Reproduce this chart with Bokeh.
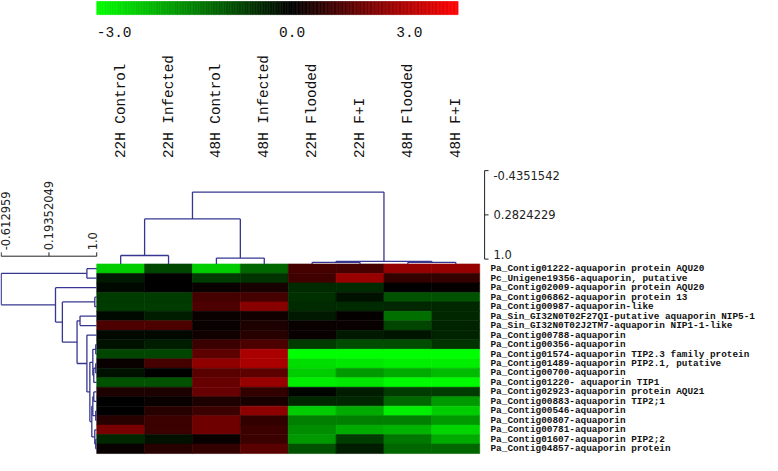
import numpy as np
from bokeh.plotting import figure
from bokeh.models import Range1d, LinearColorMapper, ColumnDataSource
from bokeh.core.properties import value
from bokeh.embed import file_html
from bokeh.resources import INLINE

# ---------------- data ----------------
conditions = ["22H Control", "22H Infected", "48H Control", "48H Infected",
              "22H Flooded", "22H F+I", "48H Flooded", "48H F+I"]

genes = [
    "Pa_Contig01222-aquaporin protein AQU20",
    "Pc_Unigene19356-aquaporin, putative",
    "Pa_Contig02009-aquaporin protein AQU20",
    "Pa_Contig06862-aquaporin protein 13",
    "Pa_Contig00987-aquaporin-like",
    "Pa_Sin_GI32N0T02F27QI-putative aquaporin NIP5-1",
    "Pa_Sin_GI32N0T02J2TM7-aquaporin NIP1-1-like",
    "Pa_Contig00788-aquaporin",
    "Pa_Contig00356-aquaporin",
    "Pa_Contig01574-aquaporin TIP2.3 family protein",
    "Pa_Contig01489-aquaporin PIP2.1, putative",
    "Pa_Contig00700-aquaporin",
    "Pa_Contig01220- aquaporin TIP1",
    "Pa_Contig02923-aquaporin protein AQU21",
    "Pa_Contig00883-aquaporin TIP2;1",
    "Pa_Contig00546-aquaporin",
    "Pa_Contig00807-aquaporin",
    "Pa_Contig00781-aquaporin",
    "Pa_Contig01607-aquaporin PIP2;2",
    "Pa_Contig04857-aquaporin protein",
]

h22_control  = [-2.4, -0.3, -0.1, -0.7, -0.7, -0.1, 0.9, -0.1, -0.2, -0.8, 0.1, -0.2, -0.95, 0.35, 0.0, 0.0, 0.45, 1.4, -0.45, 0.1]
h22_infected = [-0.8, 0.0, 0.0, -0.7, -0.7, -0.35, 0.9, -0.1, -0.35, -0.8, 0.8, 0.0, -0.95, 0.35, 0.1, 0.45, 0.7, 0.7, -0.2, 0.45]
h48_control  = [-2.4, -0.7, 0.1, 0.8, 0.9, 0.1, 0.1, 0.2, 0.7, 1.1, 1.7, 1.05, 1.2, 1.2, 0.35, 0.7, 1.3, 1.3, 0.1, 0.6]
h48_infected = [-1.2, -0.6, 0.3, 0.8, 1.6, 0.2, 0.35, 0.45, 0.9, 2.0, 2.0, 1.1, 1.8, 0.6, 0.3, 1.65, 0.6, 0.7, 0.7, 1.05]
h22_flooded  = [0.8, 0.75, -0.5, -0.55, -0.5, -0.3, 0.1, 0.1, -0.7, -3.0, -2.6, -2.4, -2.8, -0.05, -0.45, -2.4, -1.5, -1.65, -1.8, -0.95]
h22_fi       = [0.8, 1.8, -0.5, -0.2, -0.5, 0.05, 0.1, -0.3, -0.9, -3.0, -2.7, -1.8, -2.7, -0.35, -0.45, -2.0, -1.5, -2.0, -0.7, -0.35]
h48_flooded  = [1.75, 0.6, 0.0, -0.95, -0.45, -1.3, -0.8, -0.25, -0.9, -3.0, -2.8, -2.0, -2.95, -0.7, -1.2, -2.8, -1.5, -2.1, -1.4, -1.2]
h48_fi       = [1.75, 0.6, 0.05, -0.95, -0.45, -0.45, -0.4, -0.4, -0.6, -3.0, -2.8, -2.2, -2.95, -0.7, -1.8, -2.4, -1.8, -2.5, -2.0, -1.2]
columns = [h22_control, h22_infected, h48_control, h48_infected,
           h22_flooded, h22_fi, h48_flooded, h48_fi]

# hierarchical merges: (child a, child b, correlation height); new nodes numbered after leaves
row_merges = [
    (0, 1, 0.834), (3, 4, 0.967), (5, 6, 0.718), (8, 9, 0.983), (10, 11, 0.983),
    (24, 12, 0.95), (23, 25, 0.934), (13, 14, 0.95), (15, 16, 0.983), (18, 19, 0.983),
    (17, 29, 0.967), (27, 28, 0.934), (31, 30, 0.917), (26, 32, 0.884), (7, 33, 0.834),
    (22, 34, 0.668), (21, 35, 0.420), (2, 36, 0.304), (20, 37, -0.612959),
]
col_merges = [
    (0, 1, 0.87), (2, 3, 0.91), (8, 9, 0.308), (4, 5, 0.975), (6, 7, 0.975),
    (11, 12, 0.96), (10, 13, -0.106),
]

row_scale_ticks = [-0.612959, 0.19352049, 1.0]
row_scale_labels = ["-0.612959", "0.19352049", "1.0"]
col_scale_ticks = [-0.4351542, 0.2824229, 1.0]
col_scale_labels = ["-0.4351542", "0.2824229", "1.0"]
cbar_ticks = [-3.0, 0.0, 3.0]
cbar_labels = ["-3.0", "0.0", "3.0"]

# ---------------- layout (page pixel units) ----------------
HX0, HX1 = 99.0, 489.0          # heatmap left / right
HY0, HY1 = 272.0, 467.0         # heatmap top / bottom
NR, NC = len(genes), len(conditions)
CW = (HX1 - HX0) / NC
RH = (HY1 - HY0) / NR
ROW_TREE_X0 = 1.7               # x of the row-tree minimum
COL_TREE_Y0 = 176.0             # y of the col-tree minimum
DENDRO = "#363690"

palette = []
for i in range(256):
    t = i / 255 * 2 - 1
    if t < 0:
        palette.append("#%02x%02x%02x" % (0, int(round(-t * 255)), 0))
    else:
        palette.append("#%02x%02x%02x" % (int(round(t * 255)), 0, 0))
mapper = LinearColorMapper(palette=palette, low=-3, high=3)

p = figure(width=762, height=455, x_range=Range1d(1, 777), y_range=Range1d(469, 1),
           output_backend="svg", toolbar_location=None, min_border=0,
           x_axis_type=None, y_axis_type=None)
p.grid.visible = False
p.outline_line_color = None
p.background_fill_color = "white"
p.border_fill_color = "white"

# ---------------- heatmap ----------------
xs, ys, vs = [], [], []
for j, col in enumerate(columns):
    for i, v in enumerate(col):
        xs.append(HX0 + CW * (j + 0.5))
        ys.append(HY0 + RH * (i + 0.5))
        vs.append(v)
src = ColumnDataSource(dict(x=xs, y=ys, v=vs))
p.rect(x="x", y="y", width=CW, height=RH, source=src,
       fill_color={"field": "v", "transform": mapper},
       line_color={"field": "v", "transform": mapper}, line_width=0.6)

# ---------------- colour bar ----------------
CB_X0, CB_XMID, CB_X1, CB_Y0, CB_Y1 = 99.0, 298.0, 467.0, 2.0, 15.5

def cb_pos(v):
    return CB_XMID + v / 3.0 * ((CB_XMID - CB_X0) if v < 0 else (CB_X1 - CB_XMID))

nb = 240
grad = np.linspace(-3, 3, nb + 1)
edges = [cb_pos(g) for g in grad]
mids = (grad[:-1] + grad[1:]) / 2
cols_cb = [palette[int(round((g + 3) / 6 * 255))] for g in mids]
p.quad(left=edges[:-1], right=edges[1:], top=[CB_Y0] * nb, bottom=[CB_Y1] * nb,
       fill_color=cols_cb, line_color=cols_cb, line_width=0.6)
lab_x = [cb_pos(cbar_ticks[0]), cb_pos(cbar_ticks[1]), 404.0]
for xx, lab, al in zip(lab_x, cbar_labels, ["left", "center", "left"]):
    p.text(x=[xx], y=[33], text=[lab], text_align=al, text_baseline="middle",
           text_font=value("Liberation Mono"), text_font_size="14.5px", text_color="#111111")

# ---------------- column labels ----------------
p.text(x=[HX0 + CW * (j + 0.5) for j in range(NC)], y=[163] * NC, text=conditions,
       angle=np.pi / 2, text_align="left", text_baseline="middle",
       text_font=value("Liberation Mono"), text_font_size="14.3px", text_color="#111111")

# ---------------- row labels ----------------
p.text(x=[500] * NR, y=[HY0 + RH * (i + 0.5) for i in range(NR)], text=genes,
       text_align="left", text_baseline="middle",
       text_font=value("Liberation Mono"), text_font_size="9.4px", text_font_style="bold",
       text_color="#111111")

# ---------------- dendrograms ----------------
def row_h(v):
    lo = row_scale_ticks[0]
    return ROW_TREE_X0 + (v - lo) / (1 - lo) * (HX0 - ROW_TREE_X0)

def col_h(v):
    lo = col_scale_ticks[0]
    return HY0 - (1 - v) / (1 - lo) * (HY0 - COL_TREE_Y0)

def tree(merges, n, leaf_pos, leaf_h, hmap):
    pos = {i: leaf_pos(i) for i in range(n)}
    hh = {i: leaf_h for i in range(n)}
    brackets, stems = [], []
    for k, (a, b, h) in enumerate(merges):
        node = n + k
        hc = hmap(h)
        pos[node] = (pos[a] + pos[b]) / 2
        hh[node] = hc
        brackets.append((hc, pos[a], pos[b]))
        stems.append((pos[a], hh[a], hc))
        stems.append((pos[b], hh[b], hc))
    return brackets, stems

rb, rs = tree(row_merges, NR, lambda i: HY0 + RH * (i + 0.5), HX0, row_h)
segs = [(h, a, h, b) for h, a, b in rb] + [(h0, y, h1, y) for y, h0, h1 in rs]
p.segment(x0=[s[0] for s in segs], y0=[s[1] for s in segs], x1=[s[2] for s in segs],
          y1=[s[3] for s in segs], line_color=DENDRO, line_width=1.3)

cb, cs = tree(col_merges, NC, lambda j: HX0 + CW * (j + 0.5), HY0, col_h)
segs = [(a, h, b, h) for h, a, b in cb] + [(x, h0, x, h1) for x, h0, h1 in cs]
p.segment(x0=[s[0] for s in segs], y0=[s[1] for s in segs], x1=[s[2] for s in segs],
          y1=[s[3] for s in segs], line_color=DENDRO, line_width=1.3)

# ---------------- scales ----------------
# row-tree scale (horizontal, above the row tree)
RS_Y = 264.0
rx = [row_h(t) for t in row_scale_ticks]
p.segment(x0=[rx[0]], y0=[RS_Y], x1=[rx[-1]], y1=[RS_Y], line_color="#222222", line_width=1)
p.segment(x0=rx, y0=[RS_Y] * 3, x1=rx, y1=[RS_Y - 4] * 3, line_color="#222222", line_width=1)
for xx, lab, bl in zip(rx, row_scale_labels, ["top", "middle", "bottom"]):
    p.text(x=[xx], y=[258], text=[lab], angle=np.pi / 2, text_align="left", text_baseline=bl,
           text_font=value("DejaVu Sans"), text_font_size="11.5px", text_color="#222222")

# column-tree scale (vertical, right of the column tree)
CS_X = 494.0
CS_TOP, CS_BOT = 176.0, 267.0
cy = [CS_BOT - (t - col_scale_ticks[-1]) / (col_scale_ticks[0] - col_scale_ticks[-1]) * (CS_BOT - CS_TOP)
      for t in col_scale_ticks]
p.segment(x0=[CS_X], y0=[cy[0]], x1=[CS_X], y1=[cy[-1]], line_color="#222222", line_width=1)
p.segment(x0=[CS_X] * 3, y0=cy, x1=[CS_X + 4] * 3, y1=cy, line_color="#222222", line_width=1)
for yy, lab, bl in zip(cy, col_scale_labels, ["top", "middle", "bottom"]):
    p.text(x=[503], y=[yy], text=[lab], text_align="left", text_baseline=bl,
           text_font=value("DejaVu Sans"), text_font_size="11.5px", text_color="#222222")

open("out.html", "w").write(file_html(p, INLINE))
